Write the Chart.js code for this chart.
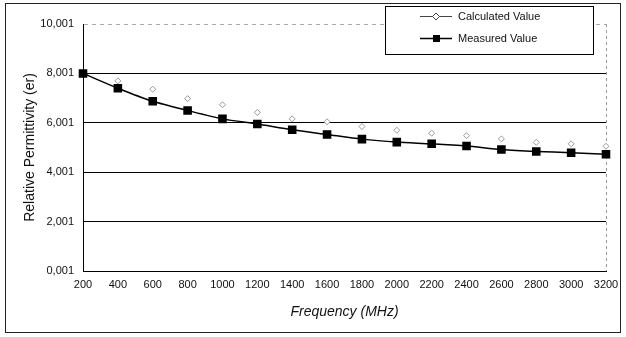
<!DOCTYPE html>
<html>
<head>
<meta charset="utf-8">
<script src="https://cdn.jsdelivr.net/npm/chart.js@4/dist/chart.umd.min.js"></script>
<style>
  html, body { margin: 0; padding: 0; background: #fff; }
  #wrap { width: 626px; height: 337px; }
</style>
</head>
<body>
<div id="wrap"><canvas id="pic_er" width="626" height="337"></canvas></div>
<script>
// values
var freqs = [200, 400, 600, 800, 1000, 1200, 1400, 1600, 1800, 2000, 2200, 2400, 2600, 2800, 3000, 3200];
var measured = [8.00, 7.40, 6.87, 6.50, 6.16, 5.95, 5.72, 5.53, 5.34, 5.22, 5.15, 5.06, 4.92, 4.84, 4.79, 4.73];
var calculated = [8.00, 7.70, 7.36, 6.98, 6.73, 6.42, 6.16, 6.04, 5.85, 5.70, 5.58, 5.48, 5.35, 5.21, 5.15, 5.05];
var yTicks = [0.001, 2.001, 4.001, 6.001, 8.001, 10.001];
var xTicks = [200, 400, 600, 800, 1000, 1200, 1400, 1600, 1800, 2000, 2200, 2400, 2600, 2800, 3000, 3200];
var seriesNames = ['Calculated Value', 'Measured Value'];

function pts(arr) {
    return freqs.map(function (f, i) { return {x: f, y: arr[i]}; });
}

// outer frame + boxed legend like the scanned figure
var framePlugin = {
    id: 'frame',
    beforeDraw: function (chart) {
        var c = chart.ctx;
        c.save();
        c.fillStyle = '#fff';
        c.fillRect(0, 0, chart.width, chart.height);
        c.strokeStyle = '#222';
        c.lineWidth = 1;
        c.strokeRect(5.5, 3.5, 615, 329);
        c.restore();
    },
    afterDraw: function (chart) {
        var c = chart.ctx;
        c.save();
        c.fillStyle = '#fff';
        c.fillRect(385, 6, 209, 49);
        c.strokeStyle = '#000';
        c.lineWidth = 1;
        c.strokeRect(385.5, 6.5, 208, 48);
        c.font = '11px "Liberation Sans", Arial, sans-serif';
        c.textBaseline = 'middle';
        // calculated
        c.strokeStyle = '#444';
        c.beginPath(); c.moveTo(420, 16.5); c.lineTo(452, 16.5); c.stroke();
        c.fillStyle = '#fff';
        c.beginPath(); c.moveTo(436, 13); c.lineTo(439.5, 16.5); c.lineTo(436, 20); c.lineTo(432.5, 16.5); c.closePath();
        c.fill(); c.stroke();
        c.fillStyle = '#111';
        c.fillText(seriesNames[0], 458, 16.5);
        // measured
        c.strokeStyle = '#000';
        c.lineWidth = 1.5;
        c.beginPath(); c.moveTo(420, 38.5); c.lineTo(452, 38.5); c.stroke();
        c.fillStyle = '#000';
        c.fillRect(433, 35, 7, 7);
        c.fillStyle = '#111';
        c.fillText(seriesNames[1], 458, 38.5);
        c.restore();
    }
};

function init() {
    var ctx = document.getElementById('pic_er').getContext('2d');
    var chart = new Chart(ctx, {
        type: 'line',
        data: {
            datasets: [{
                label: seriesNames[0],
                data: pts(calculated),
                order: 1,
                showLine: false,
                borderColor: '#9a9a9a',
                backgroundColor: '#fff',
                borderWidth: 1,
                pointStyle: 'rectRot',
                pointRadius: 3,
                clip: false
            }, {
                label: seriesNames[1],
                data: pts(measured),
                order: 0,
                borderColor: '#000',
                backgroundColor: '#000',
                borderWidth: 1.5,
                tension: 0.25,
                pointStyle: 'rect',
                pointRadius: 5,
                clip: false
            }]
        },
        options: {
            responsive: false,
            animation: false,
            events: [],
            layout: { padding: { top: 24, right: 20, left: 0, bottom: 0 } },
            plugins: {
                legend: { display: false },
                tooltip: { enabled: false }
            },
            scales: {
                x: {
                    type: 'linear',
                    min: 200,
                    max: 3200,
                    afterBuildTicks: function (s) { s.ticks = xTicks.map(function (v) { return {value: v}; }); },
                    afterFit: function (s) { s.height = 66; },
                    ticks: {
                        color: '#111',
                        font: { family: '"Liberation Sans", Arial, sans-serif', size: 11 },
                        padding: 7,
                        maxRotation: 0,
                        autoSkip: false,
                        callback: function (v) { return String(v); }
                    },
                    grid: {
                        drawTicks: false,
                        color: function (c) { return c.tick && c.tick.value === 3200 ? '#999' : 'rgba(0,0,0,0)'; }
                    },
                    border: { display: true, color: '#000', width: 1, dash: [3, 3] },
                    title: {
                        display: true,
                        text: 'Frequency (MHz)',
                        color: '#111',
                        font: { family: '"Liberation Sans", Arial, sans-serif', size: 14, style: 'italic' },
                        padding: { top: 0, bottom: 16 }
                    }
                },
                y: {
                    min: 0.001,
                    max: 10.001,
                    afterBuildTicks: function (s) { s.ticks = yTicks.map(function (v) { return {value: v}; }); },
                    afterFit: function (s) { s.width = 83; },
                    ticks: {
                        color: '#111',
                        font: { family: '"Liberation Sans", Arial, sans-serif', size: 11 },
                        padding: 9,
                        callback: function (v) { return v.toFixed(3).replace('.', ','); }
                    },
                    grid: {
                        drawTicks: false,
                        color: function (c) { return c.tick && c.tick.value > 10 ? '#aaa' : '#000'; }
                    },
                    border: {
                        display: true,
                        color: '#000',
                        width: 1,
                        dash: function (c) { return c.tick && c.tick.value > 10 ? [4, 4] : []; }
                    },
                    title: {
                        display: true,
                        text: 'Relative Permittivity (er)',
                        color: '#111',
                        font: { family: '"Liberation Sans", Arial, sans-serif', size: 14 },
                        padding: { top: 22, bottom: 0 }
                    }
                }
            }
        },
        plugins: [framePlugin]
    });
}
window.onload = function () {
    init();
};
</script>
</body>
</html>
